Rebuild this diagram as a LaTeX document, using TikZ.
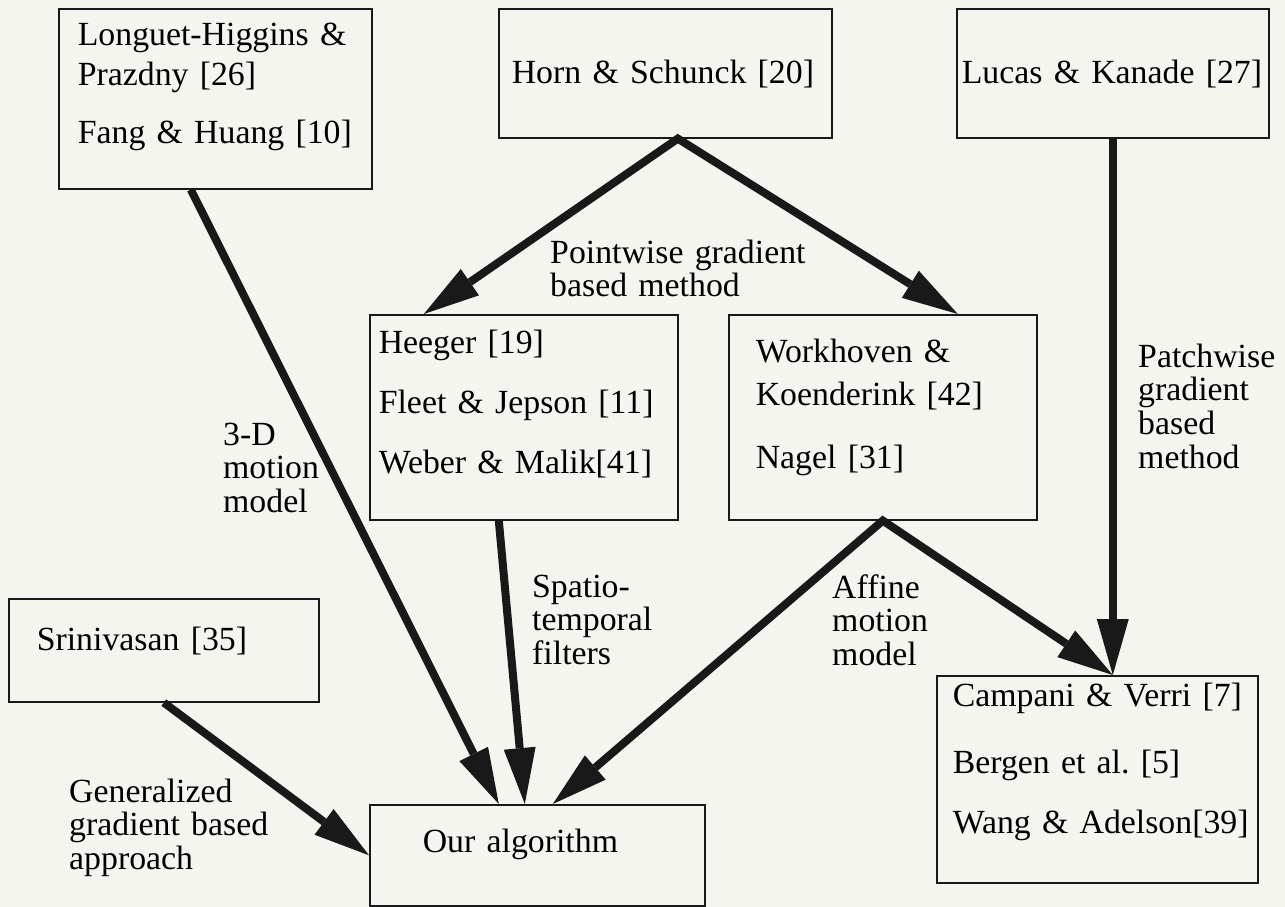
\documentclass[tikz,border=0pt]{standalone}
\usepackage{fontspec}
\setmainfont{Liberation Serif}
\usetikzlibrary{arrows.meta,calc}
\definecolor{paper}{RGB}{245,245,240}
\definecolor{ink}{RGB}{25,25,25}
\frenchspacing
\begin{document}
\begin{tikzpicture}[
	x=1pt,y=-1pt,
	>={Triangle[length=56pt,width=32pt,line width=0pt]},
	refbox/.style={draw=ink,line width=1.6pt,inner ysep=0pt,anchor=north west,align=left,font=\fontsize{33.8}{33.8}\selectfont},
	lbl/.style={inner sep=0pt,anchor=base west,align=left,text width=260pt,font=\fontsize{33.8}{33.8}\selectfont},
	flow/.style={draw=ink,line width=8pt}
	]
	\useasboundingbox (0,0) rectangle (1285,907);
	\fill[paper] (0,0) rectangle (1285,907);
	% boxes
	\node[refbox,inner xsep=19pt,text width=275pt,text height=37pt,text depth=143pt] (lh) at (58,8) {\mbox{Longuet-Higgins \&}\\[6.2pt]Prazdny [26]\\[24.2pt]Fang \& Huang [10]};
	\node[refbox,inner xsep=13pt,text width=307pt,text height=75pt,text depth=54pt] (hs) at (498,8) {Horn \& Schunck [20]};
	\node[refbox,inner xsep=5pt,text width=302pt,text height=75pt,text depth=54pt] (lk) at (956,8) {Lucas \& Kanade [27]};
	\node[refbox,inner xsep=9pt,text width=290pt,text height=39pt,text depth=166pt] (hg) at (369,314) {Heeger [19]\\[26.2pt]Fleet \& Jepson [11]\\[26.2pt]Weber \& Malik[41]};
	\node[refbox,inner xsep=27pt,text width=254pt,text height=48pt,text depth=157pt] (wk) at (728,314) {Workhoven \&\\[9.2pt]Koenderink [42]\\[29.2pt]Nagel [31]};
	\node[refbox,inner xsep=28pt,text width=254pt,text height=52pt,text depth=51pt] (sv) at (8,598) {Srinivasan [35]};
	\node[refbox,inner xsep=53pt,text width=229pt,text height=48pt,text depth=53pt] (our) at (369,804) {Our algorithm};
	\node[refbox,inner xsep=16pt,text width=289pt,text height=31pt,text depth=176pt] (cv) at (936,675) {\mbox{Campani \& Verri [7]}\\[33.2pt]Bergen et al. [5]\\[26.2pt]\mbox{Wang \& Adelson[39]}};
	% connectors
	\begin{scope}[flow,->]
		\draw ($(lh.south)+(-24.5,0)$) -- ($(our.north)+(-38.5,0)$);
		\draw[<->] ($(hg.north)+(-100,0)$) -- ($(hs.south)+(12.5,0)$) -- ($(wk.north)+(75,0)$);
		\draw ($(hg.south)+(-25,0)$) -- ($(our.north)+(-12.5,0)$);
		\draw[<->] ($(our.north)+(15.5,0)$) -- (wk.south) -- (lk.south |- cv.north);
		\draw (lk.south) -- (lk.south |- cv.north);
		\draw (sv.south) -- (our.west);
	\end{scope}
	% labels
	\node[lbl] (pw) at (550,263) {Pointwise gradient\\based method};
	\node[lbl] (md) at (223,445) {3-D\\motion\\model};
	\node[lbl] (pg) at (1138,367) {Patchwise\\gradient\\based\\method};
	\node[lbl] (st) at (532,597) {Spatio-\\temporal\\filters};
	\node[lbl] (af) at (832,598) {Affine\\motion\\model};
	\node[lbl] (gg) at (69,802) {Generalized\\gradient based\\approach};
\end{tikzpicture}
\end{document}
